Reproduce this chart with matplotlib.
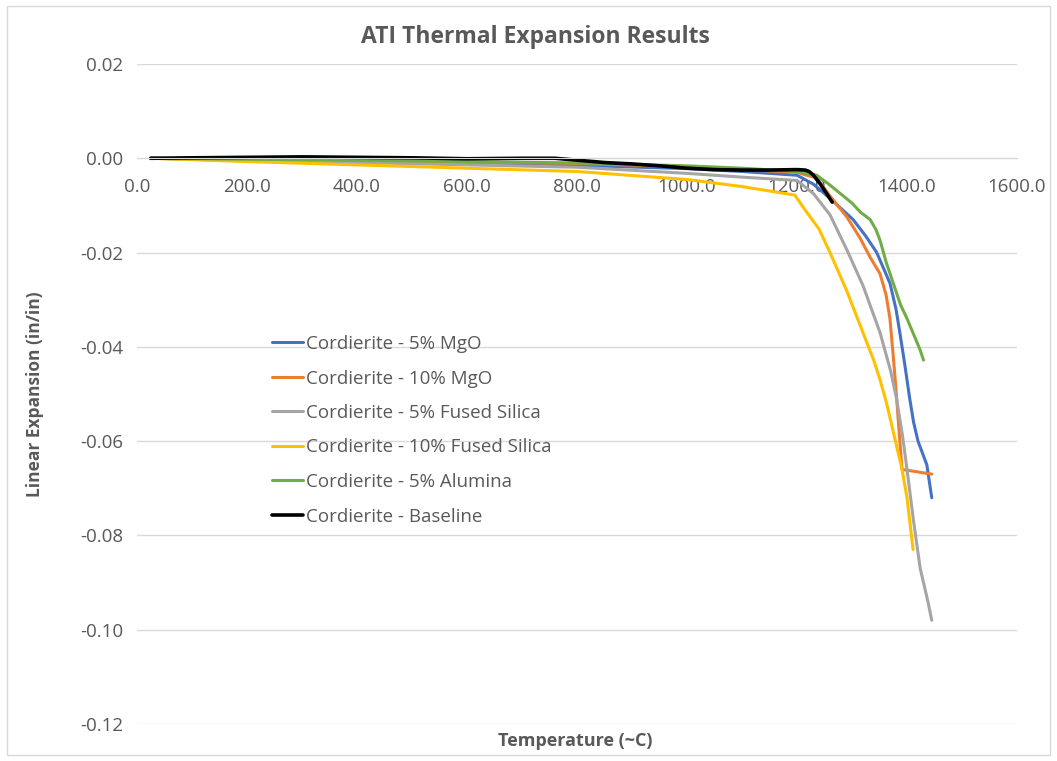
import matplotlib
matplotlib.use("Agg")
import matplotlib.pyplot as plt
from matplotlib.patches import Rectangle

plt.rcParams['font.family'] = ['Open Sans', 'DejaVu Sans']
plt.rcParams['axes.unicode_minus'] = False

# ---- data ----
mgo5_t = [25, 200, 400, 600, 800, 1000, 1100, 1200, 1230, 1260, 1302, 1325, 1345, 1369, 1380, 1387, 1395, 1405, 1412, 1420, 1436, 1445]
mgo5_y = [0, -0.0004, -0.0007, -0.0011, -0.0015, -0.0022, -0.0028, -0.0036, -0.0055, -0.0085, -0.013, -0.0165, -0.020, -0.0265, -0.032, -0.037, -0.043, -0.051, -0.056, -0.060, -0.065, -0.072]

mgo10_t = [25, 200, 400, 600, 800, 1000, 1100, 1200, 1236, 1260, 1291, 1315, 1333, 1351, 1362, 1369, 1375, 1380, 1385, 1391, 1445]
mgo10_y = [0, -0.0003, -0.0005, -0.0008, -0.0011, -0.0018, -0.0024, -0.0030, -0.0042, -0.008, -0.0125, -0.017, -0.021, -0.0245, -0.029, -0.034, -0.042, -0.049, -0.057, -0.066, -0.067]

fs5_t = [25, 200, 400, 600, 800, 1000, 1100, 1200, 1230, 1260, 1291, 1320, 1351, 1370, 1381, 1392, 1400, 1412, 1424, 1438, 1445]
fs5_y = [0, -0.0005, -0.0009, -0.0014, -0.0019, -0.0032, -0.0040, -0.0047, -0.0075, -0.012, -0.0195, -0.027, -0.037, -0.045, -0.051, -0.059, -0.066, -0.077, -0.087, -0.094, -0.098]

fs10_t = [25, 200, 400, 600, 800, 1000, 1100, 1196, 1215, 1240, 1260, 1290, 1320, 1340, 1351, 1363, 1375, 1391, 1400, 1411]
fs10_y = [0, -0.0007, -0.0014, -0.0021, -0.0028, -0.0045, -0.0060, -0.0078, -0.011, -0.015, -0.020, -0.028, -0.037, -0.043, -0.047, -0.052, -0.058, -0.066, -0.072, -0.083]

al5_t = [25, 200, 400, 600, 800, 1000, 1100, 1200, 1236, 1258, 1278, 1300, 1315, 1333, 1343, 1351, 1362, 1375, 1388, 1400, 1418, 1424, 1430]
al5_y = [0, -0.0002, -0.0004, -0.0007, -0.0010, -0.0016, -0.0021, -0.0028, -0.0036, -0.0055, -0.0074, -0.0095, -0.0114, -0.013, -0.015, -0.0174, -0.022, -0.0265, -0.031, -0.034, -0.039, -0.0407, -0.0428]

base_t = [25, 100, 200, 300, 400, 500, 600, 700, 760, 800, 850, 900, 950, 1000, 1050, 1100, 1150, 1200, 1215, 1222, 1230, 1242, 1254, 1264]
base_y = [0, 0.0001, 0.0002, 0.0003, 0.0002, 0.0001, -0.0001, 0.0, 0.0, -0.0004, -0.0009, -0.0012, -0.0016, -0.0021, -0.0024, -0.0025, -0.0025, -0.0024, -0.0025, -0.0028, -0.0036, -0.0054, -0.0075, -0.0093]

labels = ["Cordierite - 5% MgO", "Cordierite - 10% MgO", "Cordierite - 5% Fused Silica",
          "Cordierite - 10% Fused Silica", "Cordierite - 5% Alumina", "Cordierite - Baseline"]
colors = ["#4472C4", "#ED7D31", "#A5A5A5", "#FFC000", "#70AD47", "#000000"]
series = [(mgo5_t, mgo5_y), (mgo10_t, mgo10_y), (fs5_t, fs5_y),
          (fs10_t, fs10_y), (al5_t, al5_y), (base_t, base_y)]

x_ticks = [0, 200, 400, 600, 800, 1000, 1200, 1400, 1600]
y_ticks = [0.02, 0.0, -0.02, -0.04, -0.06, -0.08, -0.10, -0.12]

W, H = 1057, 761
fig = plt.figure(figsize=(W / 100, H / 100), dpi=100)
ax = fig.add_axes([137 / W, (H - 724) / H, 880 / W, 660 / H])

for (t, y), lab, c in zip(series, labels, colors):
    lw = 2.6 if c == "#000000" else 2.2
    ax.plot(t, y, color=c, lw=lw, label=lab, solid_capstyle='round', solid_joinstyle='round')

ax.set_xlim(0, 1600)
ax.set_ylim(-0.12, 0.02)
ax.set_xticks(x_ticks)
ax.set_xticklabels([f"{v:.1f}" for v in x_ticks])
ax.set_yticks(y_ticks)
ax.set_yticklabels([f"{v:.2f}" for v in y_ticks])

grid_c = "#D9D9D9"
ax.yaxis.grid(True, color=grid_c, lw=1.0)
ax.set_axisbelow(True)
for s in ['left', 'right', 'top']:
    ax.spines[s].set_visible(False)
ax.spines['bottom'].set_position(('data', 0))
ax.spines['bottom'].set_color(grid_c)
ax.tick_params(axis='both', length=0, labelsize=13.5, colors="#595959")
ax.tick_params(axis='x', pad=14)
ax.tick_params(axis='y', pad=10)

ax.set_ylabel("Linear Expansion (in/in)", fontsize=12.5, fontweight='bold', color="#595959", labelpad=26)
fig.text(575 / W, 1 - 741 / H, "Temperature (~C)", ha='center', va='center', fontsize=13,
         fontweight='bold', color="#595959")
fig.text(535 / W, 1 - 37 / H, "ATI Thermal Expansion Results", ha='center', va='center',
         fontsize=16.5, fontweight='bold', color="#595959")

leg = ax.legend(loc='upper left', bbox_to_anchor=((272 - 137) / 880, 1 - (335 - 64) / 660),
                frameon=False, fontsize=13.5, handlelength=1.65, handletextpad=0.16,
                labelspacing=0.88, borderpad=0, borderaxespad=0)
for txt in leg.get_texts():
    txt.set_color("#595959")

fig.patches.append(Rectangle((7 / W, 6 / H), (W - 14) / W, (H - 12) / H, transform=fig.transFigure,
                             fill=False, edgecolor="#D9D9D9", lw=1))

fig.savefig("out.png", dpi=100, facecolor="white")
